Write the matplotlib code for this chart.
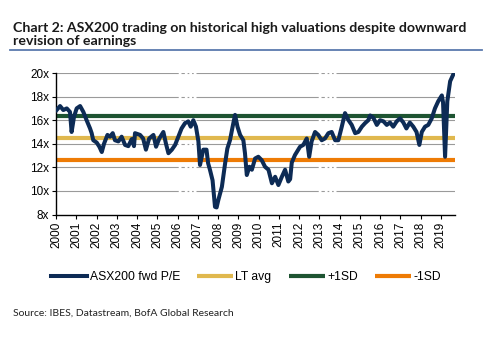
import numpy as np
import matplotlib
matplotlib.use('Agg')
import matplotlib.pyplot as plt

# ASX200 forward P/E, sampled along the series (decimal year, multiple)
pe_dates = [2000.03, 2000.2, 2000.36, 2000.53, 2000.69, 2000.77, 2000.89, 2001.02, 2001.19, 2001.35,
            2001.51, 2001.68, 2001.76, 2001.84, 2002.01, 2002.14, 2002.26, 2002.37, 2002.54, 2002.67,
            2002.8, 2002.91, 2003.08, 2003.24, 2003.41, 2003.57, 2003.74, 2003.85, 2003.9, 2004.15,
            2004.3, 2004.44, 2004.6, 2004.81, 2004.94, 2005.1, 2005.3, 2005.43, 2005.55, 2005.72,
            2005.88, 2006.04, 2006.2, 2006.37, 2006.53, 2006.65, 2006.78, 2006.91, 2007.03, 2007.11,
            2007.27, 2007.43, 2007.51, 2007.6, 2007.73, 2007.85, 2007.93, 2008.01, 2008.19, 2008.35,
            2008.46, 2008.59, 2008.72, 2008.84, 2008.96, 2009.09, 2009.25, 2009.33, 2009.42, 2009.55,
            2009.67, 2009.83, 2009.99, 2010.16, 2010.32, 2010.49, 2010.66, 2010.82, 2010.98, 2011.15,
            2011.31, 2011.47, 2011.56, 2011.64, 2011.8, 2011.89, 2012.05, 2012.21, 2012.38, 2012.5,
            2012.62, 2012.79, 2012.95, 2013.12, 2013.28, 2013.45, 2013.61, 2013.78, 2013.94, 2014.11,
            2014.27, 2014.44, 2014.6, 2014.77, 2014.93, 2015.1, 2015.26, 2015.42, 2015.51, 2015.67,
            2015.84, 2016.0, 2016.17, 2016.33, 2016.49, 2016.65, 2016.82, 2016.99, 2017.15, 2017.3,
            2017.47, 2017.64, 2017.8, 2017.94, 2018.06, 2018.22, 2018.38, 2018.55, 2018.71, 2018.87,
            2019.05, 2019.11, 2019.21, 2019.32, 2019.46, 2019.62]
pe_values = [16.86, 17.2, 16.86, 17.0, 16.7, 15.0, 16.3, 17.0, 17.2, 16.7,
             16.0, 15.3, 14.9, 14.3, 14.1, 13.75, 13.3, 14.0, 14.75, 14.6,
             14.9, 14.3, 14.2, 14.6, 13.9, 13.8, 14.4, 13.8, 14.9, 14.75,
             14.45, 13.5, 14.45, 14.75, 13.75, 14.45, 15.0, 14.0, 13.2, 13.5,
             13.9, 14.6, 15.3, 15.75, 15.9, 15.45, 16.0, 15.45, 14.2, 12.2,
             13.5, 13.5, 12.35, 11.8, 10.9, 8.65, 8.6, 9.2, 10.35, 12.35,
             13.6, 14.3, 15.45, 16.45, 15.45, 14.75, 14.3, 13.2, 11.35, 12.05,
             11.8, 12.75, 12.9, 12.6, 12.05, 11.8, 10.65, 11.2, 10.5, 11.2,
             11.8, 10.8, 11.0, 12.4, 13.05, 13.3, 13.75, 13.9, 14.45, 12.9,
             14.2, 15.0, 14.75, 14.3, 14.45, 14.9, 15.0, 14.3, 14.3, 15.45,
             16.6, 16.0, 15.6, 14.9, 15.0, 15.45, 15.75, 16.0, 16.4, 16.2,
             15.6, 16.0, 15.9, 15.6, 15.8, 15.45, 15.9, 16.15, 15.8, 15.3,
             15.8, 15.45, 15.0, 13.9, 15.0, 15.45, 15.6, 16.15, 17.0, 17.6,
             18.1, 17.5, 12.9, 17.6, 19.3, 19.9]

lt_avg = 14.5
plus_1sd = 16.35
minus_1sd = 12.65

year_ticks = list(range(2000, 2020))
y_ticks = [8, 10, 12, 14, 16, 18, 20]
y_labels = ['8x', '10x', '12x', '14x', '16x', '18x', '20x']

navy = '#0d2b55'
gold = '#e0b84e'
green = '#1e5432'
orange = '#ee7b05'

plt.rcParams['font.family'] = ['Liberation Sans', 'DejaVu Sans']

fig = plt.figure(figsize=(4.97, 3.43), dpi=100)
ax = fig.add_axes([0.1127, 0.3746, 0.8028, 0.4125])

end = 2019.68
for y in y_ticks[1:]:
    ax.axhline(y, color='#9a9a9a', lw=0.8, ls=(0, (110, 2.5, 3, 2.5, 1.5, 2.5, 1.5, 2.5)), zorder=1)

ax.plot([2000, end], [plus_1sd, plus_1sd], color=green, lw=3, solid_capstyle='butt', zorder=2, label='+1SD')
ax.plot([2000, end], [lt_avg, lt_avg], color=gold, lw=3, solid_capstyle='butt', zorder=2, label='LT avg')
ax.plot([2000, end], [minus_1sd, minus_1sd], color=orange, lw=3, solid_capstyle='butt', zorder=2, label='-1SD')
ax.plot(pe_dates, pe_values, color=navy, lw=2.9, solid_joinstyle='round', zorder=3, label='ASX200 fwd P/E')

ax.set_xlim(2000, 2019.7)
ax.set_ylim(8, 20)
ax.set_yticks(y_ticks)
ax.set_yticklabels(y_labels, fontsize=8.5)
ax.set_xticks(year_ticks)
ax.set_xticklabels([str(y) for y in year_ticks], rotation=90, fontsize=8.5)
ax.tick_params(axis='both', direction='out', length=3, width=0.8, pad=2, colors='black')
for side in ['top', 'right']:
    ax.spines[side].set_visible(False)
for side in ['left', 'bottom']:
    ax.spines[side].set_linewidth(1.0)

handles, labels = ax.get_legend_handles_labels()
order = [3, 1, 0, 2]
fig.legend([handles[i] for i in order], [labels[i] for i in order], loc='center',
           bbox_to_anchor=(0.495, 0.193), ncol=4, frameon=False, fontsize=8.7,
           handlelength=3.0, handletextpad=0.2, columnspacing=1.4)

fig.text(0.026, 0.935, 'Chart 2: ASX200 trading on historical high valuations despite downward\nrevision of earnings',
         fontsize=10.2, fontweight='bold', family='Lato', color='#1a1a1a', va='top', linespacing=1.05)
fig.add_artist(plt.Line2D([0.02, 0.97], [0.855, 0.855], color='#5a7aae', lw=1.3, transform=fig.transFigure))
fig.text(0.026, 0.087, 'Source: IBES, Datastream, BofA Global Research', fontsize=7.5, family='Lato',
         color='#222222', va='center')

fig.savefig('out.png', dpi=100)
